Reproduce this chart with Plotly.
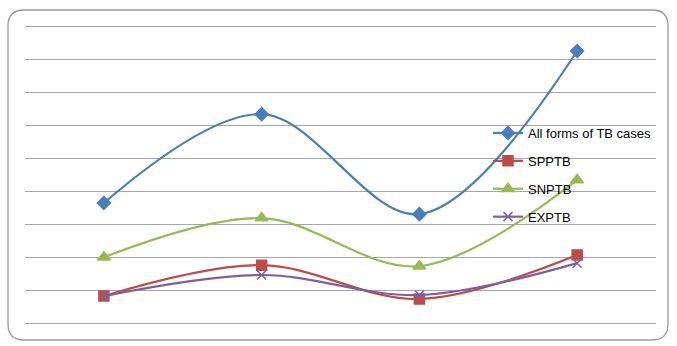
import plotly.graph_objects as go

categories = ["1", "2", "3", "4"]
all_forms = [365, 635, 331, 827]
spptb = [82, 176, 73, 207]
snptb = [200, 319, 173, 435]
exptb = [82, 146, 85, 182]

series = [
    ("All forms of TB cases", all_forms, "#4a7ebb", "diamond", 10),
    ("SPPTB", spptb, "#be4b48", "square", 10),
    ("SNPTB", snptb, "#98b954", "triangle-up", 11),
    ("EXPTB", exptb, "#7d60a0", "x-thin-open", 9),
]

fig = go.Figure()
for i, (name, vals, col, sym, sz) in enumerate(series):
    fig.add_trace(go.Scatter(
        x=categories, y=vals, name=name, mode="lines+markers",
        line=dict(color=col, width=2.2, shape="spline", smoothing=1.0),
        marker=dict(symbol=sym, size=sz, color=col, line=dict(color=col, width=1.5)),
        legendgroup=f"g{i}",
    ))

W, H = 677, 346
ml, mr, mt, mb = 25, 21, 24, 20
pw, ph = W - ml - mr, H - mt - mb

def px2paper(x, y):
    return (x - ml) / pw, (H - mb - y) / ph

# rounded rectangle border
x0, y0, x1, y1, r = 8, 10, 668, 340, 16
def P(x, y):
    a, b = px2paper(x, y)
    return f"{a:.5f},{b:.5f}"
path = (f"M {P(x0 + r, y0)} L {P(x1 - r, y0)} Q {P(x1, y0)} {P(x1, y0 + r)} "
        f"L {P(x1, y1 - r)} Q {P(x1, y1)} {P(x1 - r, y1)} "
        f"L {P(x0 + r, y1)} Q {P(x0, y1)} {P(x0, y1 - r)} "
        f"L {P(x0, y0 + r)} Q {P(x0, y0)} {P(x0 + r, y0)} Z")

lx, ly = px2paper(488, 118)

fig.update_layout(
    width=W, height=H,
    margin=dict(l=ml, r=mr, t=mt, b=mb),
    paper_bgcolor="white", plot_bgcolor="white",
    shapes=[dict(type="path", path=path, xref="paper", yref="paper",
                 line=dict(color="#9a9a9a", width=1.3), layer="below")],
    font=dict(family="Liberation Sans, Arial, sans-serif", size=13, color="#000000"),
    showlegend=True,
    legend=dict(x=lx, y=ly, xanchor="left", yanchor="top",
                bgcolor="rgba(0,0,0,0)", traceorder="grouped", tracegroupgap=8,
                font=dict(size=13)),
    xaxis=dict(showgrid=False, showticklabels=False, ticks="", showline=False,
               zeroline=False, range=[-0.5, 3.5]),
    yaxis=dict(range=[-9, 909], tick0=0, dtick=100, showgrid=True, gridcolor="#a6a6a6",
               gridwidth=1, showticklabels=False, ticks="", zeroline=False,
               showline=False),
)

fig.write_html("out.html", config={"displayModeBar": False},
               post_script="document.body.style.margin='0';document.body.style.padding='0';")
